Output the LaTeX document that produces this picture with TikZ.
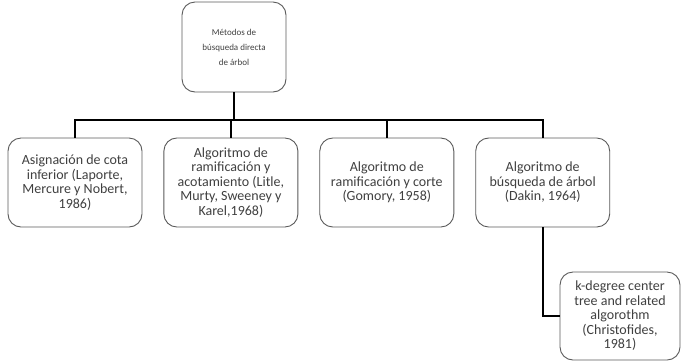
\documentclass[tikz,border=0pt]{standalone}
\usepackage{fontspec}
\setmainfont{Carlito}
\usetikzlibrary{positioning}

\definecolor{boxline}{HTML}{5A5A5A}
\definecolor{boxtext}{HTML}{404040}

\tikzset{
  metodo/.style={draw=boxline, line width=0.9pt, rounded corners=13bp,
    fill=white, text=boxtext, align=center, inner sep=2bp,
    minimum width=134bp, minimum height=89bp,
    font=\fontsize{14bp}{14.5bp}\selectfont},
  raiz/.style={metodo, minimum width=104bp, minimum height=90bp,
    font=\fontsize{9bp}{15bp}\selectfont},
  conn/.style={draw=black, line width=2.4bp},
}

\begin{document}
\begin{tikzpicture}[x=1bp, y=-1bp, node distance=21bp]
  \useasboundingbox (0,0) rectangle (682,361);

  % Define nodes
  \node[raiz] (raiz) at (234,47) {Métodos de\\búsqueda directa\\de árbol};
  \node[metodo] (cota) at (75,182.5) {Asignación de cota\\inferior (Laporte,\\Mercure y Nobert,\\1986)};
  \node[metodo, right=of cota] (acot) {Algoritmo de\\ramificación y\\acotamiento (Litle,\\Murty, Sweeney y\\Karel,1968)};
  \node[metodo, right=of acot] (corte) {Algoritmo de\\ramificación y corte\\(Gomory, 1958)};
  \node[metodo, right=of corte] (busq) {Algoritmo de\\búsqueda de árbol\\(Dakin, 1964)};
  \node[metodo, minimum width=120bp, minimum height=88bp] (kdeg) at (620,316)
    {k-degree center\\tree and related\\algorothm\\(Christofides,\\1981)};

  % Connect the nodes
  \coordinate (bus) at (234,120);
  \draw[conn] (raiz.south) -- (bus);
  \draw[conn] (cota.north) |- (bus) -| (busq.north);
  \draw[conn] (acot.north) -- (acot.north |- bus);
  \draw[conn] (corte.north) -- (corte.north |- bus);
  \draw[conn] (busq.south) |- (kdeg.west);

\end{tikzpicture}
\end{document}
